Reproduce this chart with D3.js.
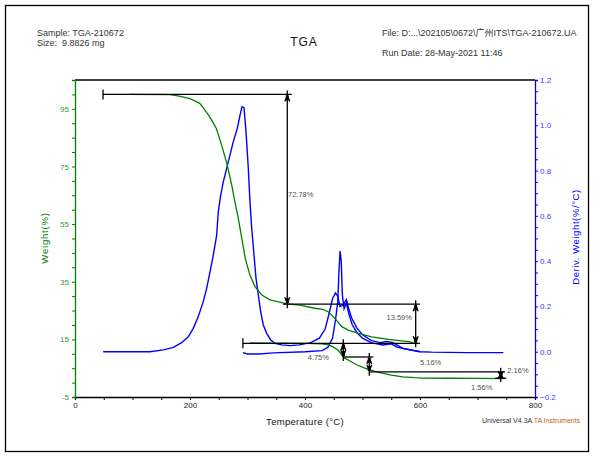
<!DOCTYPE html>
<html>
<head>
<meta charset="utf-8">
<script src="https://cdn.jsdelivr.net/npm/d3@7"></script>
<style>
  body { margin: 0; background: #fff; }
  svg { display: block; font-family: 'Liberation Sans', Arial, 'Noto Sans CJK SC', sans-serif; }
</style>
</head>
<body>
<main></main>
<script>
// Constants
const WIDTH = 601;
const HEIGHT = 456;
const PLOT = { left: 75, right: 535, top: 80, bottom: 397 };
const GREEN = '#008000';
const BLUE = '#0000ff';

// Weight (%) vs temperature, first run (to 600 °C)
const tgaRun1 = [
  [94, 100.0], [165, 99.9], [179, 99.5], [200, 98.5], [217, 96.9], [223, 95.3],
  [232, 92.9], [240, 90.3], [246, 88.1], [255, 82.4], [264, 76.1], [272.5, 68.6],
  [278, 62.8], [284, 57.0], [290, 50.1], [296, 43.2], [304, 37.4], [313, 33.3],
  [325, 30.4], [339, 28.7], [356, 27.9], [368, 27.3], [391, 26.9], [417, 25.8],
  [431, 25.4], [440, 24.6], [452, 22.3], [464, 19.4], [475, 18.2], [493, 17.1],
  [516, 15.9], [545, 15.0], [580, 14.2], [591, 13.7], [597, 13.5],
];

// Weight (%) vs temperature, second run (to 750 °C)
const tgaRun2 = [
  [304, 13.75], [330, 13.7], [360, 13.7], [400, 13.6], [430, 13.4], [440, 13.1],
  [449, 12.4], [457, 11.3], [462, 10.2], [466, 9.0], [470, 8.4], [478, 7.5],
  [490, 6.2], [503, 5.1], [513, 4.4], [525, 3.7], [536, 3.2], [550, 2.6],
  [570, 2.0], [590, 1.7], [605, 1.55], [650, 1.5], [700, 1.45], [748, 1.4],
];

// Deriv. weight (%/°C), first run
const dtgRun1 = [
  [49, 0.0], [100, 0.0], [130, 0.0], [154, 0.008], [171, 0.019], [185.5, 0.04],
  [197, 0.066], [205.7, 0.103], [214.4, 0.155], [223, 0.221], [229, 0.28],
  [234.8, 0.353], [240.5, 0.427], [246.4, 0.515], [249.2, 0.618], [253.4, 0.692],
  [258, 0.751], [263.8, 0.81], [269.6, 0.869], [275.3, 0.928], [282.3, 0.987],
  [287, 1.045], [290.4, 1.082], [293.9, 1.078], [297.4, 0.972], [301.4, 0.81],
  [304.3, 0.663], [307.3, 0.545], [311.3, 0.427], [314.8, 0.324], [318.8, 0.25],
  [323, 0.176], [327.5, 0.118], [333.4, 0.081], [340.3, 0.052], [347.8, 0.037],
  [359.5, 0.03], [374, 0.027], [390, 0.03], [410, 0.04], [425, 0.06], [435, 0.1],
  [442, 0.17], [448, 0.235], [453, 0.26], [457, 0.245], [461, 0.2], [466, 0.205],
  [472, 0.23], [476, 0.19], [481, 0.15], [490, 0.105], [500, 0.075], [515, 0.05],
  [530, 0.04], [542, 0.045], [553, 0.04], [570, 0.015], [590, 0.005], [600, 0.0],
];

// Deriv. weight (%/°C), second run
const dtgRun2 = [
  [292, -0.004], [300, -0.01], [320, -0.01], [345, -0.005], [400, 0.0],
  [430, 0.005], [440, 0.02], [448, 0.06], [453, 0.14], [457, 0.22], [459, 0.35],
  [461, 0.445], [463, 0.4], [465, 0.25], [468, 0.19], [472, 0.215], [476, 0.17],
  [482, 0.12], [490, 0.085], [500, 0.06], [515, 0.04], [535, 0.03], [550, 0.035],
  [560, 0.02], [580, 0.01], [600, 0.0], [620, -0.002], [680, -0.004], [745, -0.004],
];

// Step analysis: horizontal reference lines [weight, tStart, tEnd, leftTick]
const stepLines = [
  [100, 48.7, 377, true], [27.22, 361.7, 600, false], [13.63, 292, 600, true],
  [8.88, 466.6, 518.8, false], [3.72, 511.8, 747.8, false], [1.56, 731, 750, false],
];

// Step analysis: vertical markers [temperature, upper weight, lower weight]
const stepMarkers = [
  [369.2, 100, 27.22], [592.5, 27.22, 13.63], [466.6, 13.63, 8.88],
  [511.8, 8.88, 3.72], [740.3, 3.72, 1.56],
];

// Step labels [text, temperature, weight, anchor]
const stepLabels = [
  ['72.78%', 370.4, 65.4, 'start'], ['13.59%', 586, 22.65, 'end'],
  ['4.75%', 441.7, 8.64, 'end'], ['5.16%', 600, 7.04, 'start'],
  ['2.16%', 751.8, 4.26, 'start'], ['1.56%', 707.3, -1.63, 'middle'],
];

// Axis ticks
const xTicks = d3.range(0, 801, 50);
const xLabels = [0, 200, 400, 600, 800];
const wTicks = d3.range(-5, 101, 5);
const wLabels = [-5, 15, 35, 55, 75, 95];
const dTicks = d3.range(-4, 25).map((i) => i * 0.05);
const dLabels = [-0.2, 0, 0.2, 0.4, 0.6, 0.8, 1.0, 1.2];

function init() {
  const svg = d3.select('main').append('svg')
    .attr('width', WIDTH)
    .attr('height', HEIGHT);

  // Scales
  const x = d3.scaleLinear([0, 800], [PLOT.left, PLOT.right]);
  const yW = d3.scaleLinear([-5, 105], [PLOT.bottom, PLOT.top]);
  const yD = d3.scaleLinear([-0.2, 1.2], [PLOT.bottom, PLOT.top]);

  // Outer frame
  svg.append('rect')
    .attr('x', 5.5).attr('y', 5.5)
    .attr('width', 583).attr('height', 446)
    .attr('fill', 'none').attr('stroke', '#000').attr('stroke-width', 1.3);

  // Header texts
  const header = svg.append('g').attr('font-size', 9).attr('fill', '#333');
  header.append('text').attr('x', 37).attr('y', 35.5).text('Sample: TGA-210672');
  header.append('text').attr('x', 37).attr('y', 45.5).attr('xml:space', 'preserve').text('Size:  9.8826 mg');
  header.append('text').attr('x', 382).attr('y', 35.5).text('File: D:...\\202105\\0672\\广州ITS\\TGA-210672.UA');
  header.append('text').attr('x', 382).attr('y', 55.5).text('Run Date: 28-May-2021 11:46');

  svg.append('text')
    .attr('x', 304).attr('y', 46)
    .attr('text-anchor', 'middle')
    .attr('font-size', 12).attr('letter-spacing', 1)
    .attr('fill', '#111')
    .text('TGA');

  // Plot top border
  svg.append('line')
    .attr('x1', PLOT.left).attr('x2', PLOT.right)
    .attr('y1', PLOT.top).attr('y2', PLOT.top)
    .attr('stroke', '#000').attr('stroke-width', 1.3);

  // X axis
  const xAxis = d3.axisBottom(x)
    .tickValues(xTicks)
    .tickSize(3)
    .tickFormat((d) => (xLabels.includes(d) ? d : ''));
  const gx = svg.append('g')
    .attr('transform', `translate(0, ${PLOT.bottom})`)
    .call(xAxis);
  gx.select('.domain').attr('stroke', '#000').attr('stroke-width', 1.3);
  gx.selectAll('.tick line').attr('stroke', '#000');
  gx.selectAll('.tick text').attr('font-size', 8).attr('fill', '#222').attr('dy', '0.6em');

  // Left axis (weight)
  const wAxis = d3.axisLeft(yW)
    .tickValues(wTicks)
    .tickSize(3)
    .tickFormat((d) => (wLabels.includes(d) ? d : ''));
  const gw = svg.append('g')
    .attr('transform', `translate(${PLOT.left}, 0)`)
    .call(wAxis);
  gw.select('.domain').attr('stroke', GREEN).attr('stroke-width', 1.3);
  gw.selectAll('.tick line').attr('stroke', GREEN);
  gw.selectAll('.tick text').attr('font-size', 8).attr('fill', '#3a9a30').attr('x', -6);

  // Right axis (derivative)
  const dAxis = d3.axisRight(yD)
    .tickValues(dTicks)
    .tickSize(3)
    .tickFormat((d) => (dLabels.some((v) => Math.abs(v - d) < 1e-6) ? d3.format('.1f')(d) : ''));
  const gd = svg.append('g')
    .attr('transform', `translate(${PLOT.right}, 0)`)
    .call(dAxis);
  gd.select('.domain').attr('stroke', BLUE).attr('stroke-width', 1.3);
  gd.selectAll('.tick line').attr('stroke', BLUE);
  gd.selectAll('.tick text').attr('font-size', 8).attr('fill', '#3a3aff').attr('x', 5);

  // Axis titles
  svg.append('text')
    .attr('x', 305).attr('y', 425)
    .attr('text-anchor', 'middle')
    .attr('font-size', 9.5).attr('letter-spacing', 0.3)
    .attr('fill', '#111')
    .text('Temperature (°C)');

  svg.append('text')
    .attr('transform', 'translate(48, 238) rotate(-90)')
    .attr('text-anchor', 'middle')
    .attr('font-size', 9.5).attr('letter-spacing', 0.8)
    .attr('fill', GREEN)
    .text('Weight(%)');

  svg.append('text')
    .attr('transform', 'translate(579, 237) rotate(-90)')
    .attr('text-anchor', 'middle')
    .attr('font-size', 9.5).attr('letter-spacing', 0.6)
    .attr('fill', BLUE)
    .text('Deriv. Weight(%/°C)');

  const credit = svg.append('text')
    .attr('x', 482).attr('y', 423)
    .attr('font-size', 7);
  credit.append('tspan').attr('fill', '#333').text('Universal V4.3A ');
  credit.append('tspan').attr('fill', '#c0641a').text('TA Instruments');

  // Curves
  const wLine = d3.line().x((d) => x(d[0])).y((d) => yW(d[1]));
  const dLine = d3.line().x((d) => x(d[0])).y((d) => yD(d[1]));

  [dtgRun2, dtgRun1].forEach((data) => {
    svg.append('path')
      .datum(data)
      .attr('d', dLine)
      .attr('fill', 'none')
      .attr('stroke', BLUE)
      .attr('stroke-width', 1.4);
  });

  [tgaRun2, tgaRun1].forEach((data) => {
    svg.append('path')
      .datum(data)
      .attr('d', wLine)
      .attr('fill', 'none')
      .attr('stroke', GREEN)
      .attr('stroke-width', 1.3);
  });

  // Step analysis annotations
  const ann = svg.append('g').attr('stroke', '#000').attr('stroke-width', 1.3).attr('fill', 'none');

  stepLines.forEach(([w, t0, t1, tick]) => {
    ann.append('line')
      .attr('x1', x(t0)).attr('x2', x(t1))
      .attr('y1', yW(w)).attr('y2', yW(w));
    if (tick) {
      ann.append('line')
        .attr('x1', x(t0)).attr('x2', x(t0))
        .attr('y1', yW(w) - 5).attr('y2', yW(w) + 5);
    }
  });

  stepMarkers.forEach(([t, wTop, wBot]) => {
    const cx = x(t);
    const top = yW(wTop);
    const bot = yW(wBot);
    ann.append('line')
      .attr('x1', cx).attr('x2', cx)
      .attr('y1', top - 4).attr('y2', bot + 4);
    // arrow heads pointing at each reference line
    ann.append('path')
      .attr('d', `M${cx - 2.5},${top + 7} L${cx},${top + 1} L${cx + 2.5},${top + 7}`);
    ann.append('path')
      .attr('d', `M${cx - 2.5},${bot - 7} L${cx},${bot - 1} L${cx + 2.5},${bot - 7}`);
    ann.append('line')
      .attr('x1', cx).attr('x2', cx)
      .attr('y1', top + 1).attr('y2', top + 6)
      .attr('stroke-width', 3);
    ann.append('line')
      .attr('x1', cx).attr('x2', cx)
      .attr('y1', bot - 6).attr('y2', bot - 1)
      .attr('stroke-width', 3);
  });

  svg.append('g')
    .selectAll('text')
    .data(stepLabels)
    .enter()
    .append('text')
    .attr('x', (d) => x(d[1]))
    .attr('y', (d) => yW(d[2]))
    .attr('dy', '0.35em')
    .attr('text-anchor', (d) => d[3])
    .attr('font-size', 7.5)
    .attr('fill', '#555')
    .text((d) => d[0]);
}

init();
</script>
</body>
</html>
